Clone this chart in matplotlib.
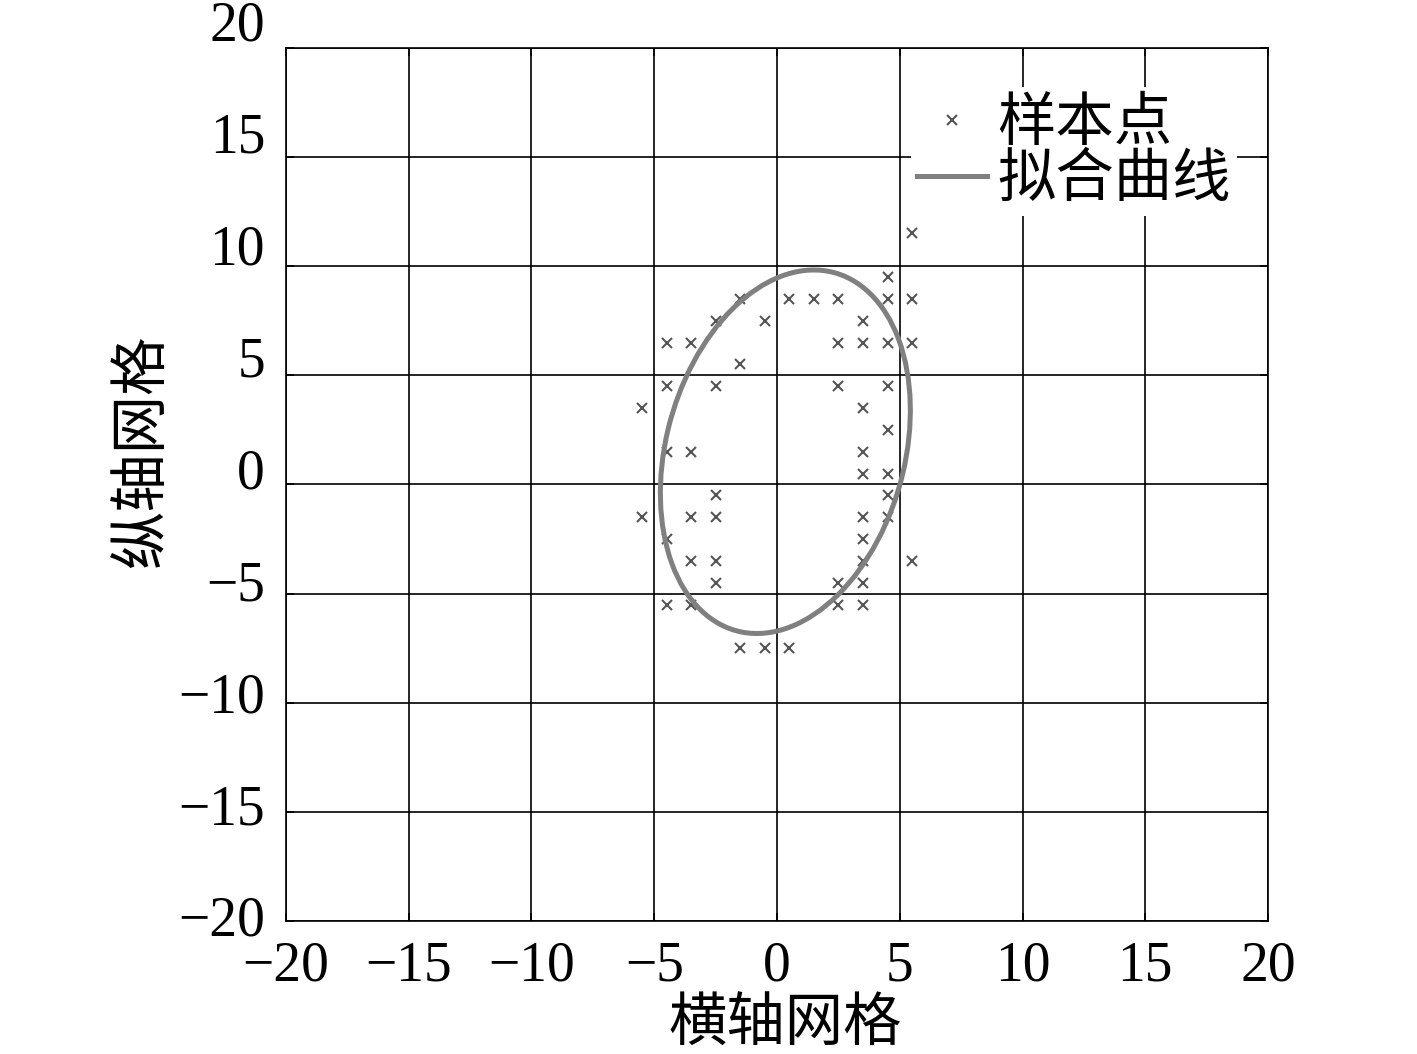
import numpy as np
from matplotlib import pyplot as plt
from matplotlib.patches import Ellipse
from matplotlib.lines import Line2D
from matplotlib.transforms import ScaledTranslation

# sample points (x, y)
sample_x = [5.5,
            4.5,
            -1.5, 0.5, 1.5, 2.5, 4.5, 5.5,
            -2.5, -0.5, 3.5,
            -4.5, -3.5, 2.5, 3.5, 4.5, 5.5,
            -1.5,
            -4.5, -2.5, 2.5, 4.5,
            -5.5, 3.5,
            4.5,
            -4.5, -3.5, 3.5,
            3.5, 4.5,
            -2.5, 4.5,
            -5.5, -3.5, -2.5, 3.5, 4.5,
            -4.5, 3.5,
            -3.5, -2.5, 3.5, 5.5,
            -2.5, 2.5, 3.5,
            -4.5, -3.5, 2.5, 3.5,
            -1.5, -0.5, 0.5]
sample_y = [11.5,
            9.5,
            8.5, 8.5, 8.5, 8.5, 8.5, 8.5,
            7.5, 7.5, 7.5,
            6.5, 6.5, 6.5, 6.5, 6.5, 6.5,
            5.5,
            4.5, 4.5, 4.5, 4.5,
            3.5, 3.5,
            2.5,
            1.5, 1.5, 1.5,
            0.5, 0.5,
            -0.5, -0.5,
            -1.5, -1.5, -1.5, -1.5, -1.5,
            -2.5, -2.5,
            -3.5, -3.5, -3.5, -3.5,
            -4.5, -4.5, -4.5,
            -5.5, -5.5, -5.5, -5.5,
            -7.5, -7.5, -7.5]

# fitted ellipse parameters
fit_center = (0.34, 1.5)
fit_major = 16.9
fit_minor = 9.77
fit_angle = 78.0

ticks = [-20, -15, -10, -5, 0, 5, 10, 15, 20]

num_font = 'Liberation Serif'
cjk_font = ['Noto Sans CJK SC', 'DejaVu Sans']

fig = plt.figure(figsize=(14.17, 10.54), dpi=100)
ax = fig.add_axes([0.2018, 0.1262, 0.6931, 0.8283])

ax.plot(sample_x, sample_y, 'x', color='#555555', markersize=7,
        markeredgewidth=1.5, zorder=3)
ell = Ellipse(fit_center, fit_major, fit_minor, angle=fit_angle,
              fill=False, edgecolor='#808080', linewidth=3.6, zorder=4)
ax.add_patch(ell)

ax.set_xlim(-20, 20)
ax.set_ylim(-20, 20)
ax.set_xticks(ticks)
ax.set_yticks(ticks)
ax.grid(True, color='black', linewidth=1.2)
ax.set_axisbelow(True)
for s in ax.spines.values():
    s.set_linewidth(1.2)
ax.tick_params(direction='in', length=6, width=1.2, top=True, right=True)
ax.tick_params(axis='x', pad=14)
ax.tick_params(axis='y', pad=15)
for lab in ax.get_xticklabels() + ax.get_yticklabels():
    lab.set_fontfamily(num_font)
    lab.set_fontsize(40)

# y labels in the original sit a little above their ticks, more so near the top
for t, lab in zip(ticks, ax.get_yticklabels()):
    dy = (5 + (t + 20) * 0.55) / 100
    lab.set_transform(lab.get_transform() + ScaledTranslation(0, dy, fig.dpi_scale_trans))

ax.set_xlabel('横轴网格', family=cjk_font, fontsize=42)
ax.set_ylabel('纵轴网格', family=cjk_font, fontsize=42)
ax.xaxis.set_label_coords(0.508, -0.083)
ax.yaxis.set_label_coords(-0.115, 0.538)

handles = [Line2D([], [], marker='x', linestyle='none', color='#555555',
                  markersize=7, markeredgewidth=1.5),
           Line2D([], [], color='#808080', linewidth=3.6)]
leg = ax.legend(handles, ['样本点', '拟合曲线'], loc='upper right',
                bbox_to_anchor=(0.968, 0.955),
                prop={'family': cjk_font, 'size': 42}, frameon=True,
                framealpha=1, edgecolor='none', handlelength=1.2,
                handletextpad=0.18, borderaxespad=0.0, labelspacing=-0.08,
                borderpad=0.1)
leg.get_frame().set_linewidth(0)

fig.savefig('out.png', dpi=100)
